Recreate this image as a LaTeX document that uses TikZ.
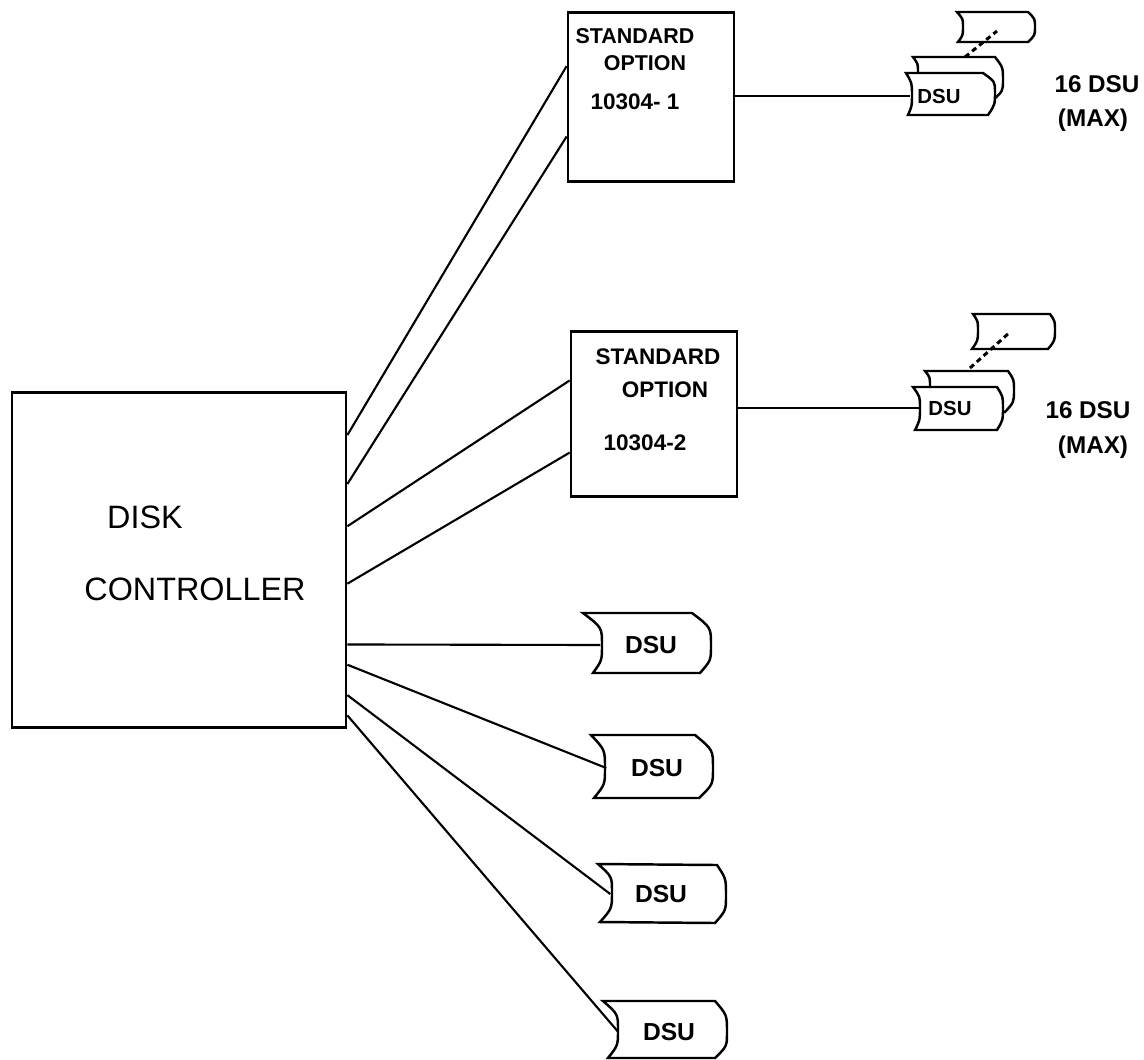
\documentclass[tikz,border=0pt]{standalone}
\usepackage{fontspec}
\setmainfont{Liberation Sans}
\usetikzlibrary{calc}
\newcommand{\dsushape}[6]{\draw[dsuline] (#1) .. controls ($(#2)!.55!(#2|-#1)$) .. (#2)
  .. controls ($(#2)!.55!(#2|-#3)$) .. (#3) -- (#4)
  .. controls ($(#5)!.55!(#5|-#4)$) .. (#5)
  .. controls ($(#5)!.55!(#5|-#6)$) .. (#6) -- cycle;}

\begin{document}
\begin{tikzpicture}[
  x=0.01cm,y=-0.01cm,
  blk/.style={draw,line width=0.75pt,inner sep=0pt},
  conn/.style={line width=0.6pt},
  dsuline/.style={line width=0.7pt,fill=white},
  dsu/.style={inner sep=0pt,minimum width=1cm,font=\fontsize{7}{8}\selectfont\bfseries},
  smalldsu/.style={inner sep=0pt,minimum width=0.56cm,font=\fontsize{5.8}{7}\selectfont\bfseries},
  lbl/.style={inner sep=0pt,font=\fontsize{6.4}{8}\selectfont\bfseries},
  biglbl/.style={inner sep=0pt,font=\fontsize{9.2}{11}\selectfont},
  link/.style={line width=0.85pt,dash pattern=on 1.5pt off 1.1pt},
]
\useasboundingbox (0,0) rectangle (1144,1059);
% controller and the two options
\node[blk,minimum width=3.34cm,minimum height=3.35cm] (disk) at (179,560) {};
\node[blk,minimum width=1.66cm,minimum height=1.69cm] (optone) at (651,97) {};
\node[blk,minimum width=1.66cm,minimum height=1.65cm] (opttwo) at (654,414) {};
\node[biglbl] (disktxt) at (145,517) {DISK};
\node[biglbl] (ctrltxt) at (195,589) {CONTROLLER};
\node[lbl,font=\fontsize{6.1}{8}\selectfont\bfseries] (stdone) at (635,36) {STANDARD};
\node[lbl,font=\fontsize{6.1}{8}\selectfont\bfseries] (optxtone) at (645,63) {OPTION};
\node[lbl] (numone) at (635,102) {10304- 1};
\node[lbl] (stdtwo) at (658,357) {STANDARD};
\node[lbl] (optxttwo) at (665,390) {OPTION};
\node[lbl] (numtwo) at (645,443) {10304-2};
% DSU stacks, upper
\dsushape{957,12}{963,27}{958,42}{1028,42}{1035,27}{1028,12}
\dsushape{913,57}{918,72}{913,95}{993,100}{1003,80}{995,57}
\draw[link] (965,57) coordinate (backone) -- (997,31) coordinate (topone);
\dsushape{906,73}{912,95}{908,115}{988,115}{995,92}{983,73}
\node[smalldsu] (sone) at (939,96) {DSU};
\dsushape{973,314}{978,330}{972,349}{1048,349}{1055,330}{1050,314}
\dsushape{925,371}{930,385}{925,405}{1005,412}{1014,390}{1008,371}
\draw[link] (970,368) coordinate (backtwo) -- (1009,333) coordinate (toptwo);
\dsushape{913,387}{920,408}{915,430}{997,430}{1003,408}{997,387}
\node[smalldsu] (stwo) at (950,408) {DSU};
\node[lbl,font=\fontsize{6.9}{8}\selectfont\bfseries] (maxaone) at (1097,84) {16 DSU};
\node[lbl,font=\fontsize{6.9}{8}\selectfont\bfseries] (maxbone) at (1093,120) {(MAX)};
\node[lbl,font=\fontsize{6.9}{8}\selectfont\bfseries] (maxatwo) at (1088,410) {16 DSU};
\node[lbl,font=\fontsize{6.9}{8}\selectfont\bfseries] (maxbtwo) at (1093,447) {(MAX)};
% single DSUs
\dsushape{583,613}{602,645}{593,673}{700,673}{711,645}{692,613}
\node[dsu] (done) at (651,645) {DSU};
\dsushape{591,735}{605,768}{594,798}{699,798}{713,768}{695,735}
\node[dsu] (dtwo) at (657,768) {DSU};
\dsushape{598,864}{612,892}{600,922}{715,923}{726,895}{717,865}
\node[dsu] (dthree) at (661,894) {DSU};
\dsushape{603,1001}{618,1030}{608,1058}{715,1058}{727,1032}{715,1001}
\node[dsu] (dfour) at (669,1032) {DSU};
% connectors
\foreach \i/\j/\k in {.13/optone/.32,.275/optone/.73,.40/opttwo/.30,.57/opttwo/.73}
  \draw[conn] ($(disk.north east)!\i!(disk.south east)$) -- ($(\j.north west)!\k!(\j.south west)$);
\foreach \i/\j in {.75/done,.81/dtwo,.90/dthree,.96/dfour}
  \draw[conn] ($(disk.north east)!\i!(disk.south east)$) -- (\j.west);
\draw[conn] (sone.west -| optone.east) -- (sone.west);
\draw[conn] (stwo.west -| opttwo.east) -- (stwo.west);
\end{tikzpicture}
\end{document}
